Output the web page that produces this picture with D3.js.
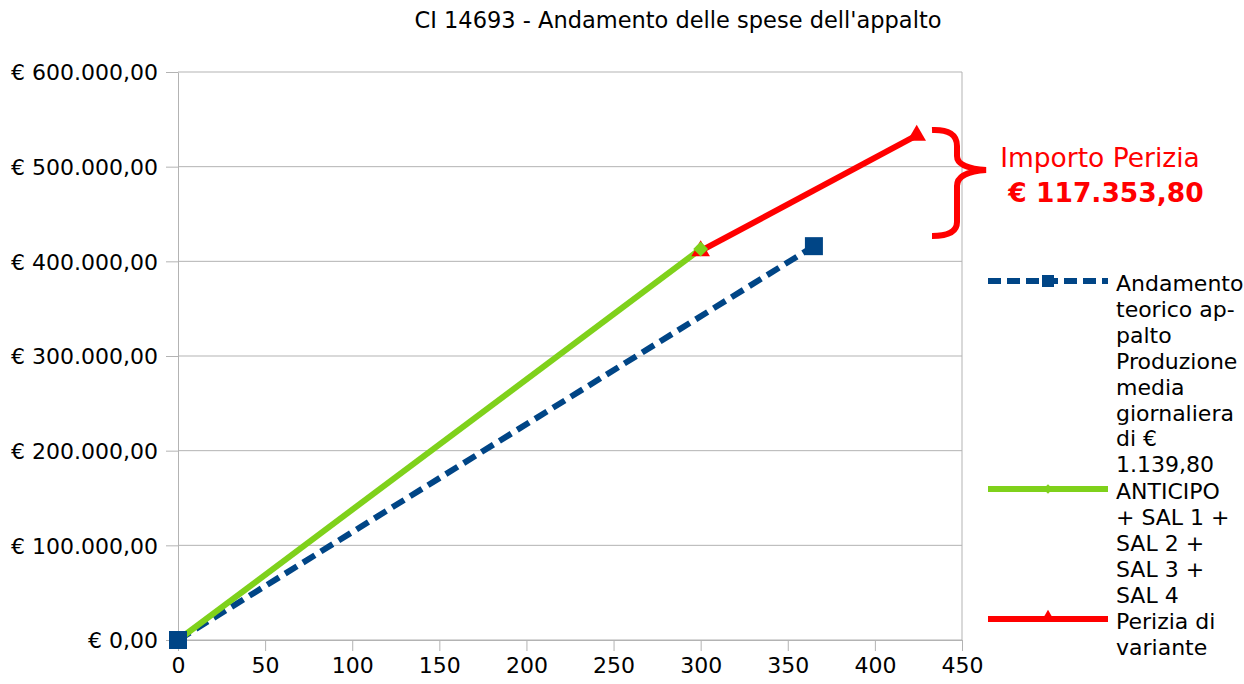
<!DOCTYPE html>
<html lang="it">
<head>
    <meta charset="UTF-8">
    <title>CI 14693 - Andamento delle spese dell'appalto</title>
    <style>
        body {
            margin: 0;
            background: #fff;
            font-family: "DejaVu Sans", sans-serif;
        }
        .grid line {
            stroke: #b3b3b3;
            stroke-width: 1px;
        }
        .axis path, .axis line {
            stroke: #b3b3b3;
        }
        .axis text {
            font-family: "DejaVu Sans", sans-serif;
            font-size: 22px;
            fill: #000;
        }
        .legend text {
            font-size: 22px;
            fill: #000;
        }
    </style>
</head>
<body>
<svg id="chart" width="1244" height="684"></svg>

<script src="https://d3js.org/d3.v7.min.js"></script>
<script>
// dati
const xTicks = [0, 50, 100, 150, 200, 250, 300, 350, 400, 450];
const yTicks = [0, 100000, 200000, 300000, 400000, 500000, 600000];

const teoricoGiorni = [0, 365];
const teoricoImporti = [0, 416027];

const salGiorni = [0, 300];
const salImporti = [0, 413000];

const periziaGiorni = [300, 424];
const periziaImporti = [411000, 533000];

const seriesNames = [
    ["Andamento", "teorico ap-", "palto", "Produzione", "media", "giornaliera", "di €", "1.139,80"],
    ["ANTICIPO", "+ SAL 1 +", "SAL 2 +", "SAL 3 +", "SAL 4"],
    ["Perizia di", "variante"]
];

const importoPerizia = 117353.80;

const svg = d3.select('#chart');
const margin = {top: 72, left: 178, right: 282, bottom: 44};
const width = 1244 - margin.left - margin.right;
const height = 684 - margin.top - margin.bottom;

const locale = d3.formatLocale({
    decimal: ",",
    thousands: ".",
    grouping: [3],
    currency: ["€ ", ""]
});
const euro = locale.format("$,.2f");

const x = d3.scaleLinear().domain([0, 450]).range([margin.left, margin.left + width]);
const y = d3.scaleLinear().domain([0, 600000]).range([margin.top + height, margin.top]);

// titolo
svg.append('text')
    .attr('x', 678)
    .attr('y', 28)
    .attr('text-anchor', 'middle')
    .style('font-size', '22.5px')
    .text("CI 14693 - Andamento delle spese dell'appalto");

// griglia
svg.append('g')
    .attr('class', 'grid')
    .selectAll('line')
    .data(yTicks)
    .enter().append('line')
    .attr('x1', margin.left)
    .attr('x2', margin.left + width)
    .attr('y1', d => y(d))
    .attr('y2', d => y(d));

svg.append('line')
    .attr('x1', margin.left + width)
    .attr('x2', margin.left + width)
    .attr('y1', margin.top)
    .attr('y2', margin.top + height)
    .attr('stroke', '#b3b3b3');

// assi
svg.append('g')
    .attr('class', 'axis')
    .attr('transform', `translate(0,${margin.top + height})`)
    .call(d3.axisBottom(x).tickValues(xTicks).tickSize(11).tickSizeOuter(0).tickPadding(6));

const yAxis = svg.append('g')
    .attr('class', 'axis')
    .attr('transform', `translate(${margin.left},0)`)
    .call(d3.axisLeft(y).tickValues(yTicks).tickFormat(euro).tickSize(12).tickSizeOuter(0).tickPadding(8));

yAxis.selectAll('text').attr('dy', '0.36em');

// serie
const teorico = teoricoGiorni.map((g, i) => [g, teoricoImporti[i]]);
const sal = salGiorni.map((g, i) => [g, salImporti[i]]);
const perizia = periziaGiorni.map((g, i) => [g, periziaImporti[i]]);

const line = d3.line().x(d => x(d[0])).y(d => y(d[1]));

svg.append('path')
    .datum(teorico)
    .attr('d', line)
    .attr('fill', 'none')
    .attr('stroke', '#004586')
    .attr('stroke-width', 6)
    .attr('stroke-dasharray', '14 7');

svg.append('path')
    .datum(perizia)
    .attr('d', line)
    .attr('fill', 'none')
    .attr('stroke', '#ff0000')
    .attr('stroke-width', 6);

svg.append('path')
    .datum(sal)
    .attr('d', line)
    .attr('fill', 'none')
    .attr('stroke', '#7fd11b')
    .attr('stroke-width', 6);

// marcatori
const triangle = d3.symbol().type(d3.symbolTriangle);
const square = d3.symbol().type(d3.symbolSquare);

svg.append('g')
    .selectAll('path')
    .data(perizia)
    .enter().append('path')
    .attr('d', triangle.size(150))
    .attr('transform', d => `translate(${x(d[0])},${y(d[1])})`)
    .attr('fill', '#ff0000');

// rombo = quadrato ruotato
svg.append('g')
    .selectAll('path')
    .data(sal)
    .enter().append('path')
    .attr('d', square.size(110))
    .attr('transform', d => `translate(${x(d[0])},${y(d[1])}) rotate(45)`)
    .attr('fill', '#7fd11b');

svg.append('g')
    .selectAll('rect')
    .data(teorico)
    .enter().append('rect')
    .attr('x', d => x(d[0]) - 9)
    .attr('y', d => y(d[1]) - 9)
    .attr('width', 18)
    .attr('height', 18)
    .attr('fill', '#004586');

// graffa e importo perizia
svg.append('path')
    .attr('d', 'M932,130 Q957,129 957,146 L957,156 Q957,168 986,170 Q957,172 957,186 L957,222 Q957,236 932,236')
    .attr('fill', 'none')
    .attr('stroke', '#ff0000')
    .attr('stroke-width', 6)
    .attr('stroke-linecap', 'butt');

svg.append('text')
    .attr('x', 1100)
    .attr('y', 167)
    .attr('text-anchor', 'middle')
    .attr('fill', '#ff0000')
    .style('font-size', '26.5px')
    .text('Importo Perizia');

svg.append('text')
    .attr('x', 1106)
    .attr('y', 202)
    .attr('text-anchor', 'middle')
    .attr('fill', '#ff0000')
    .style('font-size', '26.5px')
    .style('font-weight', 'bold')
    .text(euro(importoPerizia));

// legenda
const legend = svg.append('g').attr('class', 'legend');
const legendRows = [
    {y: 281, color: '#004586', dash: '13 6', lines: seriesNames[0], marker: 'square'},
    {y: 489, color: '#7fd11b', dash: null, lines: seriesNames[1], marker: 'diamond'},
    {y: 619, color: '#ff0000', dash: null, lines: seriesNames[2], marker: 'triangle'}
];

legendRows.forEach(r => {
    legend.append('line')
        .attr('x1', 988)
        .attr('x2', 1108)
        .attr('y1', r.y)
        .attr('y2', r.y)
        .attr('stroke', r.color)
        .attr('stroke-width', 6)
        .attr('stroke-dasharray', r.dash);
    if (r.marker === 'square') {
        legend.append('rect')
            .attr('x', 1042).attr('y', r.y - 6)
            .attr('width', 12).attr('height', 12)
            .attr('fill', r.color);
    } else if (r.marker === 'diamond') {
        legend.append('path')
            .attr('d', square.size(45))
            .attr('transform', `translate(1048,${r.y}) rotate(45)`)
            .attr('fill', r.color);
    } else {
        legend.append('path')
            .attr('d', triangle.size(70))
            .attr('transform', `translate(1048,${r.y - 2})`)
            .attr('fill', r.color);
    }
    const t = legend.append('text')
        .attr('x', 1116)
        .attr('y', r.y + 10);
    r.lines.forEach((l, i) => {
        t.append('tspan')
            .attr('x', 1116)
            .attr('dy', i === 0 ? 0 : 25.9)
            .text(l);
    });
});
</script>
</body>
</html>
